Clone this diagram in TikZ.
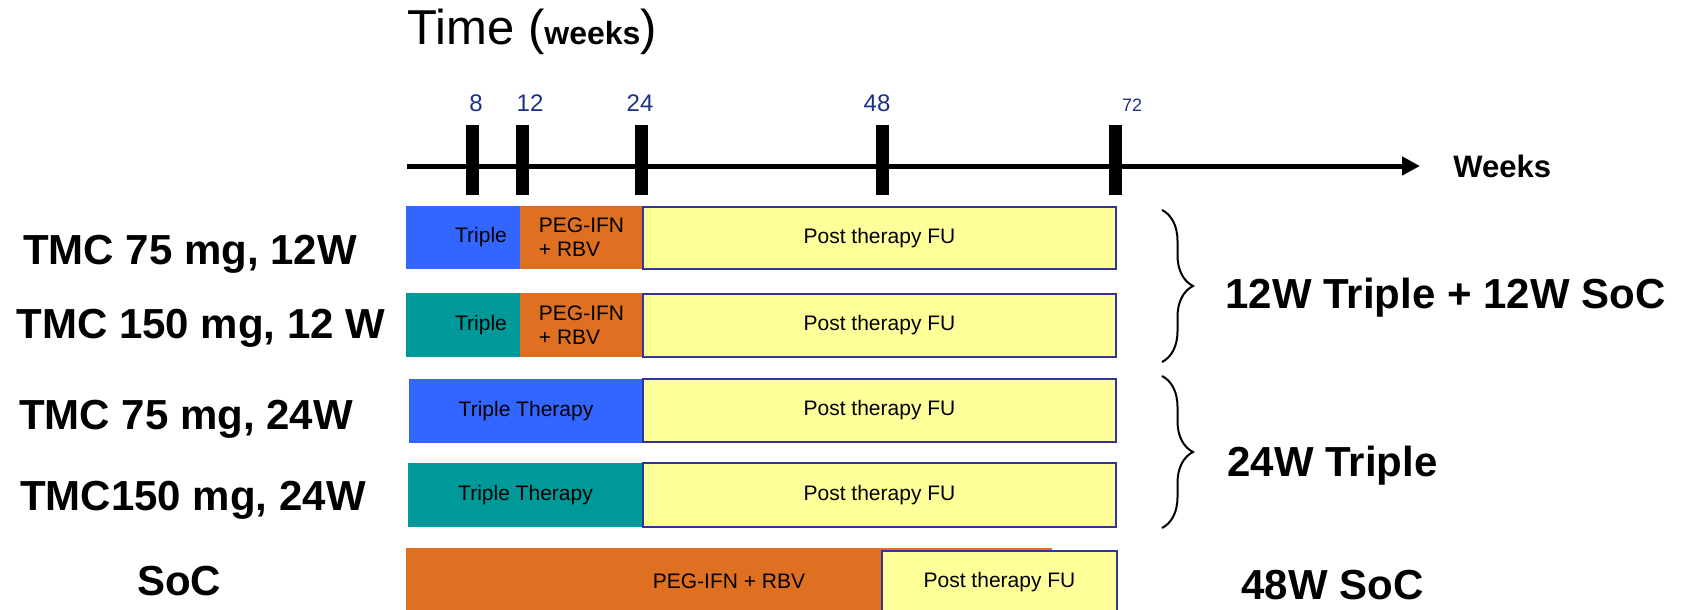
\documentclass[tikz,border=0pt]{standalone}
\usepackage{fontspec}
\setmainfont{Liberation Sans}
\usetikzlibrary{arrows.meta,decorations.pathreplacing}

\definecolor{tripleblue}{RGB}{51,102,255}
\definecolor{tripleteal}{RGB}{0,153,153}
\definecolor{socorange}{RGB}{223,112,34}
\definecolor{fuyellow}{RGB}{255,255,153}
\definecolor{funavy}{RGB}{51,51,153}
\definecolor{weeknavy}{RGB}{25,50,135}

\begin{document}
\begin{tikzpicture}[x=0.5pt,y=-0.5pt,>={Triangle[length=9pt,width=9pt]},
  arm label/.style={font=\fontsize{21}{25}\selectfont\bfseries,
    anchor=base,inner sep=0pt},
  group label/.style={font=\fontsize{21}{25}\selectfont\bfseries,
    anchor=base west,inner sep=0pt},
  bar text/.style={font=\fontsize{10.5}{12}\selectfont,align=left,inner sep=0pt},
  fu box/.style={fill=fuyellow,draw=funavy,line width=1pt},
  week label/.style={font=\fontsize{12}{14}\selectfont,text=weeknavy,
    anchor=base,inner sep=0pt},
  group brace/.style={decorate,decoration={brace,amplitude=15.5pt},line width=1pt}]

  \useasboundingbox (0,0) rectangle (1681,610);

  % title and time axis
  \node[anchor=base west,inner sep=0pt] (title) at (407,45)
    {{\fontsize{24.5}{28}\selectfont Time (}{\fontsize{16}{18}\selectfont\bfseries weeks}{\fontsize{24.5}{28}\selectfont )}};
  \coordinate (t0) at (407,166);
  \coordinate (tend) at (1420,166);
  \draw[->,line width=2.5pt] (t0) -- (tend);
  \node[anchor=base west,inner sep=0pt,font=\fontsize{15.5}{18}\selectfont\bfseries]
    (weeks) at (1453,177) {Weeks};
  \foreach \x in {472,522,641,882,1115}
    \fill (\x-6.5,125) rectangle (\x+6.5,195);
  \foreach \x/\w in {476/8,530/12,640/24,877/48}
    \node[week label] (w\w) at (\x,112) {\w};
  \node[week label,font=\fontsize{9}{11}\selectfont] (w72) at (1132,112) {72};

  % arms
  \fill[fill=tripleblue] (406,206) rectangle node[bar text,xshift=9pt] (a1tri) {Triple} (520,269);
  \fill[fill=socorange] (520,206) rectangle node[bar text] (a1soc) {PEG-IFN\\+ RBV} (643,269);
  \draw[fu box] (643,207) rectangle node[bar text] (a1fu) {Post therapy FU} (1116,269);

  \fill[fill=tripleteal] (406,293) rectangle node[bar text,xshift=9pt] (a2tri) {Triple} (520,357);
  \fill[fill=socorange] (520,293) rectangle node[bar text] (a2soc) {PEG-IFN\\+ RBV} (643,357);
  \draw[fu box] (643,294) rectangle node[bar text] (a2fu) {Post therapy FU} (1116,357);

  \fill[fill=tripleblue] (409,379) rectangle node[bar text] (a3tri) {Triple Therapy} (643,443);
  \draw[fu box] (643,379) rectangle node[bar text] (a3fu) {Post therapy FU} (1116,442);

  \fill[fill=tripleteal] (408,463) rectangle node[bar text] (a4tri) {Triple Therapy} (643,527);
  \draw[fu box] (643,463) rectangle node[bar text] (a4fu) {Post therapy FU} (1116,527);

  \fill[fill=socorange] (406,548) rectangle node[bar text] (a5soc) {PEG-IFN + RBV} (1052,614);
  \draw[fu box] (882,551) rectangle node[bar text] (a5fu) {Post therapy FU} (1117,614);

  % arm names
  \node[arm label] (arm1) at (190,264) {TMC 75 mg, 12W};
  \node[arm label] (arm2) at (201,338) {TMC 150 mg, 12 W};
  \node[arm label] (arm3) at (186,429) {TMC 75 mg, 24W};
  \node[arm label] (arm4) at (193,510) {TMC150 mg, 24W};
  \node[arm label] (arm5) at (179,595) {SoC};

  % groups
  \draw[group brace] (1162,210) -- (1162,362);
  \draw[group brace] (1162,376) -- (1162,528);
  \node[group label] (g1) at (1225,308) {12W Triple + 12W SoC};
  \node[group label] (g2) at (1227,476) {24W Triple};
  \node[group label] (g3) at (1241,599) {48W SoC};
\end{tikzpicture}
\end{document}
